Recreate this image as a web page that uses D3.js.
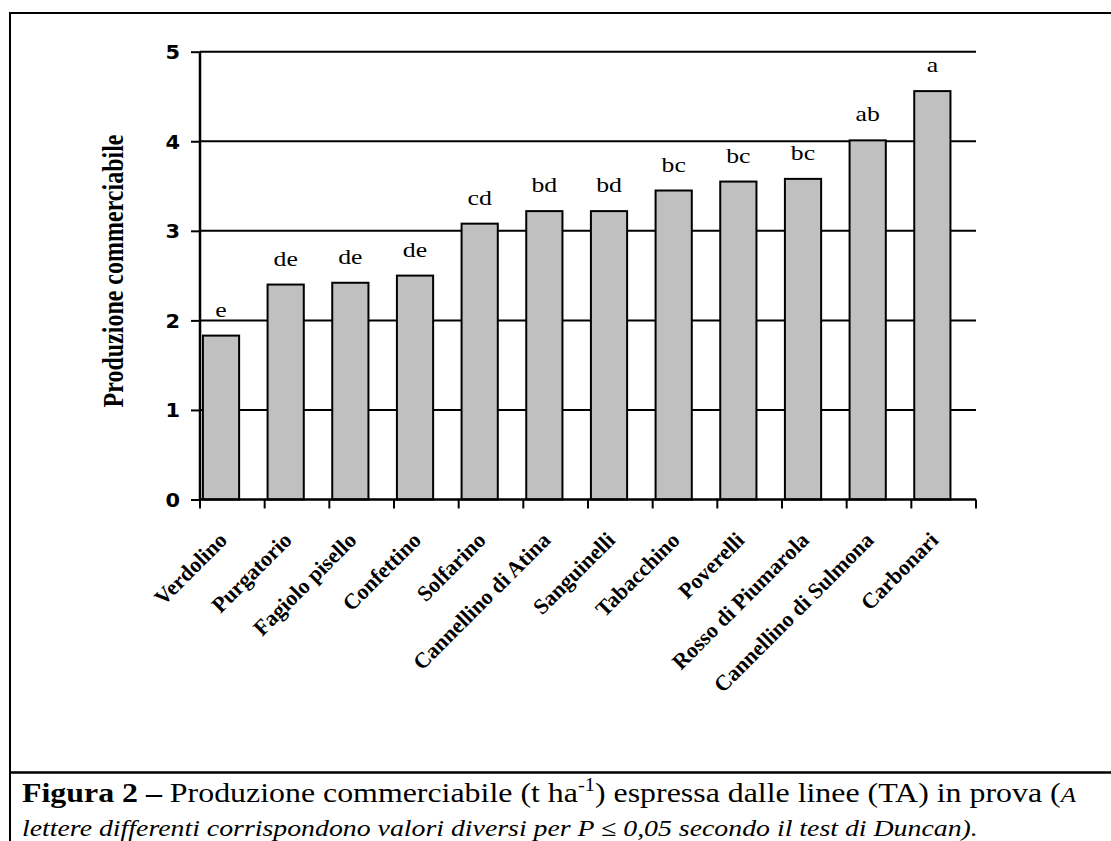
<!DOCTYPE html>
<html>
<head>
<meta charset="utf-8">
<script src="https://cdn.jsdelivr.net/npm/d3@7"></script>
<style>
  html, body { margin: 0; padding: 0; background: #fff; }
  svg { display: block; }
</style>
</head>
<body>
<svg id="chart" width="1111" height="841"></svg>
<script>
// Bean lines (TA) and their marketable yield, t/ha
const lines = ["Verdolino", "Purgatorio", "Fagiolo pisello", "Confettino", "Solfarino",
  "Cannellino di Atina", "Sanguinelli", "Tabacchino", "Poverelli", "Rosso di Piumarola",
  "Cannellino di Sulmona", "Carbonari"];
const yieldValues = [1.83, 2.40, 2.42, 2.50, 3.08, 3.22, 3.22, 3.45, 3.55, 3.58, 4.01, 4.56];
// Duncan test groups (P <= 0.05)
const groupLetters = ["e", "de", "de", "de", "cd", "bd", "bd", "bc", "bc", "bc", "ab", "a"];
const yTicks = [0, 1, 2, 3, 4, 5];

const SERIF = "'Liberation Serif', 'Times New Roman', serif";
const SANS = "'DejaVu Sans', Verdana, sans-serif";
const STRETCH = 1.17; // horizontal widening of the horizontal text

const svg = d3.select("#chart");
const plot = { left: 200, right: 976, top: 51.7, bottom: 499.5 };

const x = d3.scaleBand().domain(lines).range([plot.left, plot.right]).padding(0);
const y = d3.scaleLinear().domain([0, 5]).range([plot.bottom, plot.top]);

// Outer frame and caption divider
svg.append("rect").attr("x", 10).attr("y", 13).attr("width", 1120).attr("height", 840)
  .attr("fill", "none").attr("stroke", "#000").attr("stroke-width", 2);
svg.append("line").attr("x1", 10).attr("x2", 1111).attr("y1", 772.5).attr("y2", 772.5)
  .attr("stroke", "#000").attr("stroke-width", 2.5);

// Horizontal gridlines
svg.append("g").selectAll("line").data(yTicks.filter(d => d > 0)).join("line")
  .attr("x1", plot.left).attr("x2", plot.right)
  .attr("y1", d => y(d)).attr("y2", d => y(d))
  .attr("stroke", "#000").attr("stroke-width", 2);

// Bars
const barOffset = x.bandwidth() * 0.045;
const barWidth = x.bandwidth() * 0.56;
svg.append("g").selectAll("rect").data(lines).join("rect")
  .attr("x", (d) => x(d) + barOffset)
  .attr("y", (d, i) => y(yieldValues[i]))
  .attr("width", barWidth)
  .attr("height", (d, i) => y(0) - y(yieldValues[i]))
  .attr("fill", "#c0c0c0").attr("stroke", "#000").attr("stroke-width", 2);

// Group letters above bars
svg.append("g").selectAll("text").data(lines).join("text")
  .attr("transform", (d, i) =>
    `translate(${x(d) + barOffset + barWidth / 2},${y(yieldValues[i]) - 19}) scale(${STRETCH},1)`)
  .attr("text-anchor", "middle")
  .attr("font-family", SERIF)
  .attr("font-size", 22)
  .text((d, i) => groupLetters[i]);

// Y axis
const yAxis = svg.append("g").attr("transform", `translate(${plot.left},0)`)
  .call(d3.axisLeft(y).tickValues(yTicks).tickSize(9).tickPadding(0).tickFormat(d3.format("d")));
yAxis.select(".domain").attr("stroke", "#000").attr("stroke-width", 2.5).attr("d", `M0,${plot.top}V${plot.bottom}`);
yAxis.selectAll(".tick line").attr("stroke", "#000").attr("stroke-width", 2);
yAxis.selectAll(".tick text")
  .attr("x", null)
  .attr("transform", `translate(-20,0) scale(1.1,1)`)
  .attr("font-family", SANS)
  .attr("font-size", 19).attr("font-weight", "bold").attr("fill", "#000")
  .attr("dy", "0.36em");

// X axis with ticks at category boundaries
const xAxis = svg.append("g").attr("transform", `translate(0,${plot.bottom})`);
xAxis.append("line").attr("x1", plot.left).attr("x2", plot.right).attr("y1", 0).attr("y2", 0)
  .attr("stroke", "#000").attr("stroke-width", 2.5);
const boundaries = lines.map(d => x(d)).concat([plot.right]);
xAxis.selectAll("line.tick").data(boundaries).join("line").attr("class", "tick")
  .attr("x1", d => d).attr("x2", d => d).attr("y1", 0).attr("y2", 9)
  .attr("stroke", "#000").attr("stroke-width", 2);

// Rotated category labels
svg.append("g").selectAll("text").data(lines).join("text")
  .attr("transform", d => `translate(${x(d) + x.bandwidth() / 2 - 4},${plot.bottom + 42}) rotate(-45)`)
  .attr("text-anchor", "end")
  .attr("font-family", SERIF)
  .attr("font-size", 22).attr("font-weight", "bold")
  .text(d => d);

// Y axis title
svg.append("text")
  .attr("transform", `translate(123,271) scale(1.2,1) rotate(-90)`)
  .attr("text-anchor", "middle")
  .attr("font-family", SERIF)
  .attr("font-size", 24).attr("font-weight", "bold")
  .text("Produzione commerciabile");

// Caption, widened to the figure width
const cap1 = svg.append("text")
  .attr("font-family", SERIF)
  .attr("font-size", 28);
cap1.append("tspan").attr("font-weight", "bold").text("Figura 2 –");
cap1.append("tspan").text(" Produzione commerciabile (t ha");
cap1.append("tspan").attr("dy", -11).attr("font-size", 18).text("-1");
cap1.append("tspan").attr("dy", 11).text(") espressa dalle linee (TA) in prova (");
cap1.append("tspan").attr("font-style", "italic").attr("font-size", 22).text("A");

const cap2 = svg.append("text")
  .attr("font-family", SERIF)
  .attr("font-size", 23).attr("font-style", "italic")
  .text("lettere differenti corrispondono valori diversi per P ≤ 0,05 secondo il test di Duncan).");

function fitWidth(sel, x0, baseline, targetRight) {
  const w = sel.node().getComputedTextLength();
  const s = (targetRight - x0) / w;
  sel.attr("transform", `translate(${x0},${baseline}) scale(${s},1)`);
}
fitWidth(cap1, 22, 802, 1076);
fitWidth(cap2, 22, 836, 978);
</script>
</body>
</html>
